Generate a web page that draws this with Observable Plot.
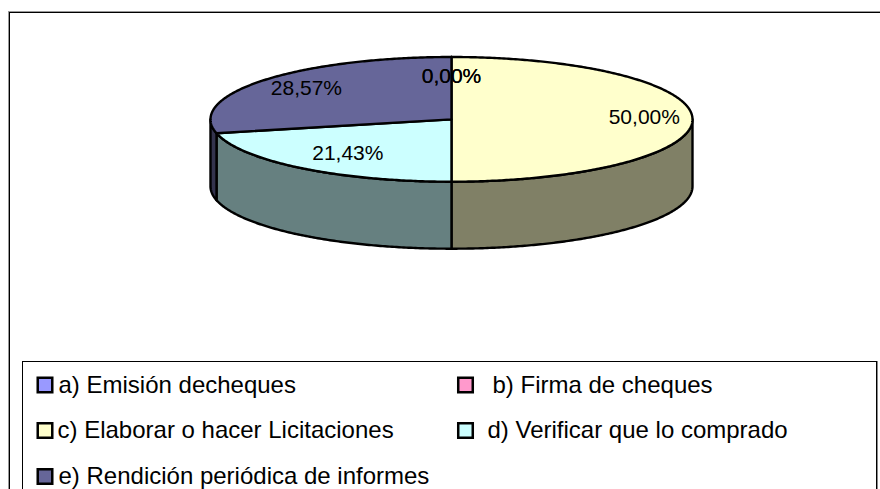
<!DOCTYPE html>
<html>
<head>
<meta charset="utf-8">
<script src="https://cdn.jsdelivr.net/npm/d3@7"></script>
<script src="https://cdn.jsdelivr.net/npm/@observablehq/plot@0.6"></script>
<style>html,body{margin:0;padding:0;background:#fff}svg{display:block}</style>
</head>
<body>
<div id="chart"></div>
<script>
const categories = ["a) Emisión decheques", "b) Firma de cheques", "c) Elaborar o hacer Licitaciones", "d) Verificar que lo comprado", "e) Rendición periódica de informes"];
const values = [0, 0, 50, 21.43, 28.57];
const topColors = ["#9999FF", "#FF99CC", "#FFFFCC", "#CCFFFF", "#666699"];
const wallColors = ["#4D4D80", "#804D66", "#808066", "#668080", "#33334D"];

// styling: where each legend row sits and how far out each label sits
const legendPos = [[44.5, 384.5, 58], [465, 384.5, 492], [44.5, 430, 57], [465, 430, 487], [44.5, 476, 58]];
const labelReach = [0.68, 0.68, 0.80, 0.69, 0.77];
const labelNudge = [[0, -1], [0, -1], [0, -2], [0, 0], [0, -1]];
const FONT = "'Liberation Sans', Arial, sans-serif";
const depth = 67 / 62.35;

const pie = d3.pie().sort(null).value(d => d)(values);
const px = a => Math.sin(a);
const py = a => -Math.cos(a);
const arc = (a0, a1, dy = 0) => {
  const n = Math.max(1, Math.ceil(Math.abs(a1 - a0) / 0.01));
  return d3.range(n + 1).map(i => {
    const a = a0 + (a1 - a0) * i / n;
    return {x: px(a), y: py(a) + dy};
  });
};
const poly = (pts, fill) => Plot.line(pts, {x: "x", y: "y", fill, stroke: "#000", strokeWidth: 2.4, strokeLinejoin: "round", curve: "linear"});

const marks = [
  Plot.frame({stroke: "#999", strokeWidth: 1, insetLeft: 8, insetTop: 11, insetRight: -10, insetBottom: -10}),
  Plot.frame({stroke: "#000", strokeWidth: 1, insetLeft: 9, insetTop: 12, insetRight: -10, insetBottom: -10})
];

// walls: only the part of each slice on the front half
pie.forEach((s, i) => {
  const a0 = Math.max(s.startAngle, Math.PI / 2), a1 = Math.min(s.endAngle, 3 * Math.PI / 2);
  if (a1 > a0) {
    const top = arc(a0, a1), bottom = arc(a1, a0, depth);
    const pts = [...top, ...bottom, top[0]];
    marks.push(poly(pts, wallColors[i]));
  }
});
// top faces
pie.forEach((s, i) => {
  const pts = [{x: 0, y: 0}, ...arc(s.startAngle, s.endAngle), {x: 0, y: 0}];
  marks.push(poly(pts, topColors[i]));
});
// labels
pie.forEach((s, i) => {
  const m = (s.startAngle + s.endAngle) / 2;
  marks.push(Plot.text([values[i]], {
    x: () => px(m) * labelReach[i], y: () => py(m) * labelReach[i],
    dx: labelNudge[i][0], dy: labelNudge[i][1],
    text: d => d.toFixed(2).replace(".", ",") + "%",
    fontFamily: FONT, fontSize: 21, fill: "#000", textAnchor: "middle", lineAnchor: "middle"
  }));
});
// legend box
marks.push(Plot.frame({stroke: "#888", strokeWidth: 1, insetLeft: 22, insetTop: 361, insetRight: 3, insetBottom: -10}));
marks.push(Plot.frame({stroke: "#000", strokeWidth: 1, insetLeft: 22, insetTop: 361, insetRight: 4, insetBottom: -10}));
categories.forEach((c, i) => {
  const [sx, y, tx] = legendPos[i];
  marks.push(Plot.dot([c], {frameAnchor: "top-left", dx: sx, dy: y, symbol: "square", r: 8.2, fill: topColors[i], stroke: "#000", strokeWidth: 2.5}));
  marks.push(Plot.text([c], {frameAnchor: "top-left", dx: tx, dy: y, text: d => d, textAnchor: "start", lineAnchor: "middle", fontFamily: FONT, fontSize: 24, fill: "#000"}));
});

const chart = Plot.plot({
  width: 880, height: 489, margin: 0,
  style: {background: "#fff"},
  x: {domain: [-1, 1], range: [210, 692], axis: null},
  y: {domain: [-1, 1], range: [56.5, 181.2], axis: null},
  marks
});
document.getElementById("chart").append(chart);
</script>
</body>
</html>
